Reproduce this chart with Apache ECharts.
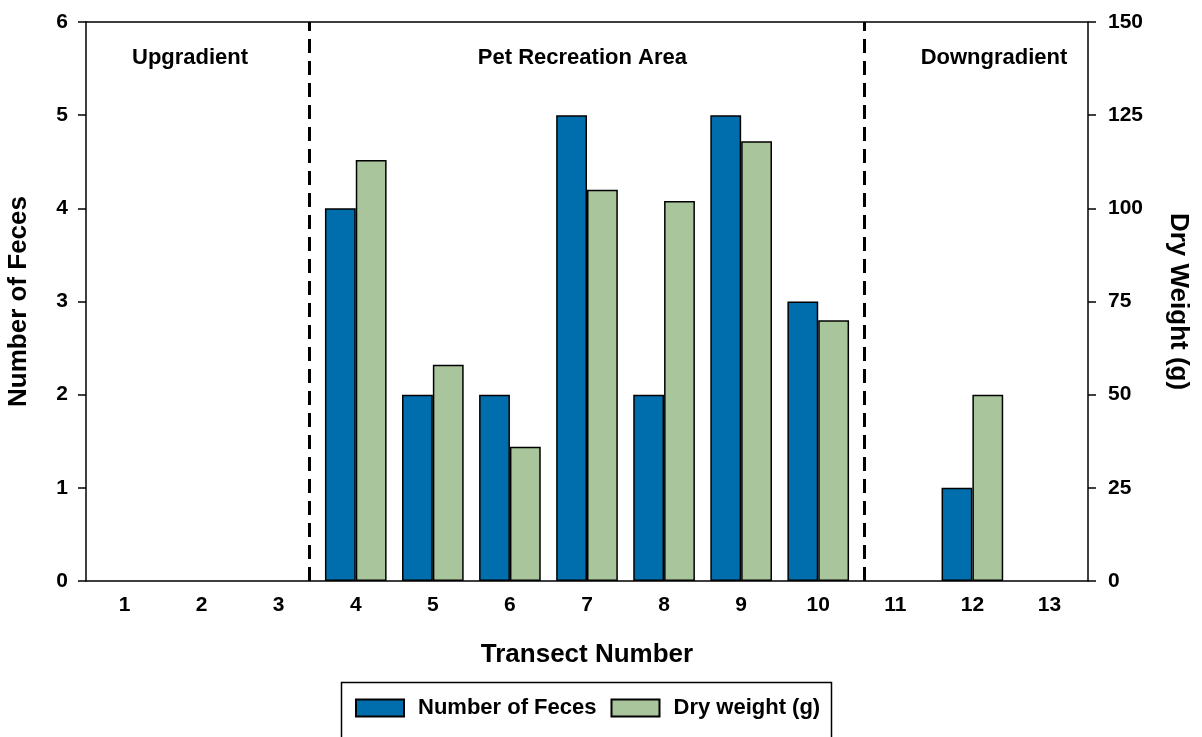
<!DOCTYPE html>
<html>
<head>
<meta charset="utf-8">
<script src="https://cdn.jsdelivr.net/npm/echarts@6/dist/echarts.min.js"></script>
<style>
html,body{margin:0;padding:0;background:#fff;}
#chart{width:1202px;height:737px;}
</style>
</head>
<body>
<div id="chart"></div>
<script>
const categories = ['1','2','3','4','5','6','7','8','9','10','11','12','13'];
const numberOfFeces = [0,0,0,4,2,2,5,2,5,3,0,1,0];
const dryWeight = [0,0,0,113,58,36,105,102,118,70,0,50,0];
const leftTicks = [0,1,2,3,4,5,6];
const rightTicks = [0,25,50,75,100,125,150];
const dividerX = [3.4, 10.6];
const regionLabels = ['Upgradient','Pet Recreation Area','Downgradient'];
const regionX = [1.85, 6.94, 12.28];
const regionY = 5.61;

const FONT = 'Liberation Sans, Arial, sans-serif';
const chart = echarts.init(document.getElementById('chart'));

// zero-height bars get no outline, as in the reference
const barData = arr => arr.map(v => v === 0 ? {value: v, itemStyle: {borderWidth: 0}} : v);

const dividerSeries = dividerX.map(x => ({
  type: 'line',
  xAxisIndex: 1,
  yAxisIndex: 0,
  data: [[x, leftTicks[0]], [x, leftTicks[leftTicks.length-1]]],
  symbol: 'none',
  silent: true,
  lineStyle: {color: '#000', width: 3, type: [14, 8]},
  z: 5
}));

chart.setOption({
  animation: false,
  backgroundColor: '#fff',
  grid: {left: 86, right: 114, top: 22, bottom: 156, containLabel: false, outerBoundsMode: 'none'},
  legend: {
    left: 355, top: 697,
    padding: 0,
    itemWidth: 48, itemHeight: 17,
    itemGap: 14,
    icon: 'rect',
    textStyle: {fontFamily: FONT, fontWeight: 'bold', fontSize: 22, color: '#000', padding: [0,0,0,9]},
    data: ['Number of Feces', 'Dry weight (g)']
  },
  graphic: [{
    type: 'rect', left: 339, top: 680,
    shape: {width: 490, height: 90},
    style: {fill: 'none', stroke: '#000', lineWidth: 1.5},
    silent: true
  }],
  xAxis: [{
    type: 'category',
    data: categories,
    position: 'bottom',
    name: 'Transect Number',
    nameLocation: 'middle',
    nameGap: 61,
    nameTextStyle: {fontFamily: FONT, fontWeight: 'bold', fontSize: 26, color: '#000'},
    axisLine: {show: true, lineStyle: {color: '#000', width: 1.5}},
    axisTick: {show: false},
    axisLabel: {fontFamily: FONT, fontWeight: 'bold', fontSize: 21, color: '#000', margin: 14},
    splitLine: {show: false}
  }, {
    type: 'value',
    min: 0.5, max: 13.5,
    position: 'top',
    axisLine: {show: true, onZero: false, lineStyle: {color: '#000', width: 1.5}},
    axisTick: {show: false},
    axisLabel: {show: false},
    splitLine: {show: false}
  }],
  yAxis: [{
    type: 'value',
    min: leftTicks[0], max: leftTicks[leftTicks.length-1], interval: 1,
    position: 'left',
    name: 'Number of Feces',
    nameLocation: 'middle',
    nameGap: 54,
    nameTextStyle: {fontFamily: FONT, fontWeight: 'bold', fontSize: 26, color: '#000'},
    axisLine: {show: true, lineStyle: {color: '#000', width: 1.5}},
    axisTick: {show: true, length: 8, lineStyle: {color: '#000', width: 1.5}},
    axisLabel: {fontFamily: FONT, fontWeight: 'bold', fontSize: 21, color: '#000', margin: 18,
      formatter: v => leftTicks.includes(v) ? String(v) : ''},
    splitLine: {show: false}
  }, {
    type: 'value',
    min: rightTicks[0], max: rightTicks[rightTicks.length-1], interval: 25,
    position: 'right',
    name: 'Dry Weight (g)',
    nameLocation: 'middle',
    nameRotate: -90,
    nameGap: 77,
    nameTextStyle: {fontFamily: FONT, fontWeight: 'bold', fontSize: 26, color: '#000'},
    axisLine: {show: true, lineStyle: {color: '#000', width: 1.5}},
    axisTick: {show: true, length: 8, lineStyle: {color: '#000', width: 1.5}},
    axisLabel: {fontFamily: FONT, fontWeight: 'bold', fontSize: 21, color: '#000', margin: 20,
      formatter: v => rightTicks.includes(v) ? String(v) : ''},
    splitLine: {show: false}
  }],
  series: [{
    name: 'Number of Feces',
    type: 'bar',
    xAxisIndex: 0, yAxisIndex: 0,
    data: barData(numberOfFeces),
    barGap: '0%',
    barCategoryGap: '20%',
    itemStyle: {color: '#006DAD', borderColor: '#000', borderWidth: 1.5}
  }, {
    name: 'Dry weight (g)',
    type: 'bar',
    xAxisIndex: 0, yAxisIndex: 1,
    data: barData(dryWeight),
    barGap: '0%',
    barCategoryGap: '20%',
    itemStyle: {color: '#A9C59B', borderColor: '#000', borderWidth: 1.5}
  }, ...dividerSeries, {
    type: 'scatter',
    xAxisIndex: 1, yAxisIndex: 0,
    symbolSize: 0,
    silent: true,
    itemStyle: {opacity: 1},
    data: regionX.map((x, i) => ({value: [x, regionY], name: regionLabels[i]})),
    label: {show: true, position: 'inside', formatter: p => p.name, opacity: 1,
      fontFamily: FONT, fontWeight: 'bold', fontSize: 22, color: '#000'}
  }]
});
</script>
</body>
</html>
